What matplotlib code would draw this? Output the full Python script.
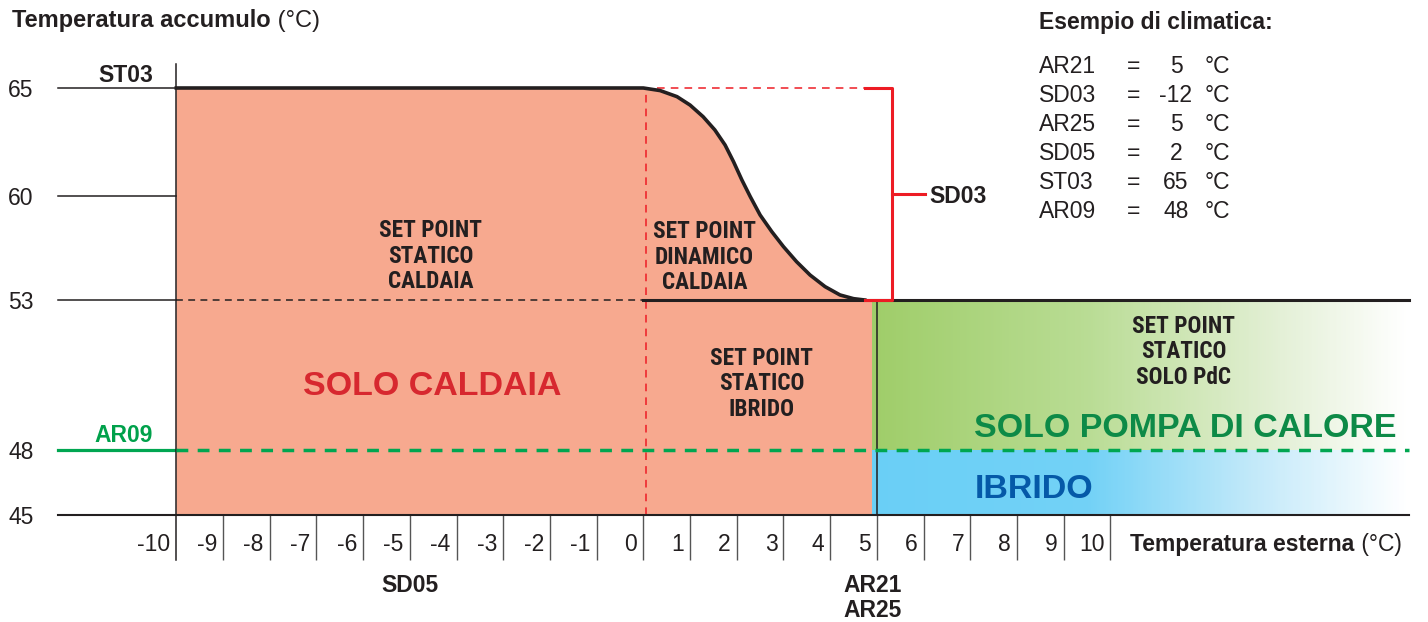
import numpy as np
import matplotlib.pyplot as plt
from matplotlib.font_manager import FontProperties, findfont
from matplotlib.colors import LinearSegmentedColormap

plt.rcParams['font.family'] = ['Liberation Sans', 'DejaVu Sans']

# assi (°C)
x_ticks = list(range(-10, 11))
y_ticks = [45, 48, 53, 60, 65]

st03 = 65      # set point statico caldaia
sd03 = -12     # escursione set point dinamico
ar09 = 48      # soglia pompa di calore
ar21 = 5
x_start = -10
x_dyn = 0
sp_low = st03 + sd03

# set point dinamico caldaia
curve_x = [0.0, 0.36, 0.72, 1.00, 1.28, 1.53, 1.75, 1.93, 2.11, 2.29,
           2.50, 2.75, 3.00, 3.28, 3.57, 3.89, 4.21, 4.50, 4.74]
curve_y = [65.0, 64.88, 64.60, 64.21, 63.67, 63.06, 62.36, 61.59, 60.74, 59.95,
           58.72, 57.60, 56.59, 55.58, 54.68, 53.90, 53.34, 53.09, 53.0]

# esempio di climatica
params = ['AR21', 'SD03', 'AR25', 'SD05', 'ST03', 'AR09']
param_values = [5, -12, 5, 2, 65, 48]

INK = '#231f20'
SALMON = '#f7a98f'
RED = '#ed1c24'
GREEN = '#00a651'

# scala verticale a tratti, come nello schema
Y_KNOTS = [30, 45, 48, 53, 60, 65, 80]
Y_PIX = [-218, 107, 172, 322, 426, 534, 858]


def y_forward(v):
    return np.interp(v, Y_KNOTS, Y_PIX)


def y_inverse(p):
    return np.interp(p, Y_PIX, Y_KNOTS)


def narrow_bold():
    """Cerca un bold stretto installato, altrimenti Liberation Sans bold."""
    candidates = [
        dict(family='Liberation Sans Narrow'),
        dict(family='Roboto Condensed'),
        dict(family='Open Sans Condensed'),
        dict(family='Noto Sans Condensed'),
        dict(family='Noto Sans', stretch='condensed'),
        dict(family='Open Sans', stretch='condensed'),
        dict(family='Roboto', stretch='condensed'),
        dict(family='DejaVu Sans', stretch='condensed'),
    ]
    for c in candidates:
        fp = FontProperties(weight='bold', **c)
        try:
            path = findfont(fp, fallback_to_default=False)
        except ValueError:
            continue
        if any(k in path for k in ('Narrow', 'Cond', 'cond')):
            return fp
    return FontProperties(family='Liberation Sans', weight='bold')


fig = plt.figure(figsize=(14.28, 6.22), dpi=100)
ax = fig.add_axes([0, 0, 1, 1])
ax.set_yscale('function', functions=(y_forward, y_inverse))
ax.set_xlim(-13.775, 16.80)
ax.set_ylim(y_inverse(0), y_inverse(622))
ax.axis('off')

x_left = -12.53
x_end = 16.4
x_fill = 4.9
tick_bottom = 42.92

# zona solo caldaia
salmon_x = [x_start, x_start] + curve_x + [x_fill, x_fill]
salmon_y = [45, st03] + curve_y + [sp_low, 45]
ax.fill(salmon_x, salmon_y, color=SALMON, lw=0, zorder=1)

# zone pompa di calore / ibrido con sfumatura
green_cmap = LinearSegmentedColormap.from_list(
    'pdc', [(0, '#9fcd69'), (0.4, '#b9dc94'), (0.75, '#e2efd4'), (1, '#ffffff')])
blue_cmap = LinearSegmentedColormap.from_list(
    'ibr', [(0, '#6acff6'), (0.4, '#72d1f6'), (0.7, '#c0e8f9'), (1, '#ffffff')])
gx = np.linspace(x_fill, x_end, 300)
shade = np.linspace(0, 1, len(gx) - 1)[None, :]
ax.pcolormesh(gx, [ar09, sp_low], shade, cmap=green_cmap, shading='flat',
              antialiased=False, zorder=1)
ax.pcolormesh(gx, [45, ar09], shade, cmap=blue_cmap, shading='flat',
              antialiased=False, zorder=1)

# linee guida sull'asse verticale
for v in [st03, 60, sp_low]:
    ax.plot([x_left, x_start], [v, v], color=INK, lw=1.1, zorder=3)
ax.plot([x_left, x_end], [45, 45], color=INK, lw=1.5, zorder=4)
ax.plot([x_start, x_start], [tick_bottom, 66.1], color=INK, lw=1.1, zorder=4)
ax.vlines(x_ticks[1:], tick_bottom, 45, color='#555555', lw=1.0, zorder=3)

# set point statico + dinamico
ax.plot([x_start] + curve_x, [st03] + curve_y, color=INK, lw=2.6, zorder=5,
        solid_joinstyle='round')
ax.plot([x_start, x_dyn], [sp_low, sp_low], color=INK, lw=1.1, dashes=(4.5, 3.5), zorder=3)
ax.plot([x_dyn, x_end], [sp_low, sp_low], color=INK, lw=2.2, zorder=4)
ax.plot([ar21, ar21], [45, sp_low], color=INK, lw=1.1, zorder=4)

# SD03
ax.plot([0.05, 0.05], [45, st03], color=RED, lw=1.1, dashes=(5, 4), zorder=3)
ax.plot([0.3, curve_x[-1]], [st03, st03], color=RED, lw=1.1, dashes=(5, 4), zorder=3)
bx = 5.33
ax.plot([curve_x[-1], bx, bx, curve_x[-1]], [st03, st03, sp_low, sp_low],
        color=RED, lw=2.2, zorder=6)
y_mid = y_inverse((y_forward(st03) + y_forward(sp_low)) / 2)
ax.plot([bx, 6.03], [y_mid, y_mid], color=RED, lw=2.2, zorder=6)
ax.annotate('SD03', xy=(6.03, y_mid), xytext=(4, -9), textcoords='offset pixels',
            ha='left', va='baseline', fontsize=16.5, fontweight='bold', color=INK)

# AR09
ax.plot([x_left, x_start], [ar09, ar09], color=GREEN, lw=2.3, zorder=3)
ax.plot([x_start, x_end], [ar09, ar09], color=GREEN, lw=2.5, dashes=(3.4, 2.7), zorder=4)

# etichette assi
for v in y_ticks:
    ax.annotate(str(v), xy=(x_left, v), xytext=(-50, -9), textcoords='offset pixels',
                ha='left', va='baseline', fontsize=16.5, color=INK)
for t in x_ticks:
    ax.annotate(str(t), xy=(t, 45), xytext=(-6, -36), textcoords='offset pixels',
                ha='right', va='baseline', fontsize=16.5, color=INK)

bold_kw = dict(textcoords='offset pixels', ha='center', va='baseline',
               fontsize=16.5, fontweight='bold', color=INK)
ax.annotate('ST03', xy=(-11.08, st03), xytext=(0, 6), **bold_kw)
ax.annotate('AR09', xy=(-11.12, ar09), xytext=(0, 8),
            **{**bold_kw, 'color': '#00a14b'})
ax.annotate('SD05', xy=(-5, 45), xytext=(0, -77), **bold_kw)
ax.annotate('AR21', xy=(ar21, 45), xytext=(-4, -77), **bold_kw)
ax.annotate('AR25', xy=(ar21, 45), xytext=(-4, -102), **bold_kw)

t1 = ax.text(12 / 1428, 1 - 27 / 622, 'Temperatura accumulo', transform=ax.transAxes,
             ha='left', va='baseline', fontsize=17, fontweight='bold', color=INK)
ax.annotate(' (°C)', xy=(1, 0), xycoords=t1, ha='left', va='bottom',
            fontsize=17, color=INK)
t2 = ax.annotate('Temperatura esterna', xy=(10, 45), xytext=(20, -36),
                 textcoords='offset pixels', ha='left', va='baseline',
                 fontsize=16.5, fontweight='bold', color=INK)
ax.annotate(' (°C)', xy=(1, 0), xycoords=t2, ha='left', va='bottom',
            fontsize=16.5, color=INK)

# zone
ax.text(-4.52, 49.83, 'SOLO CALDAIA', ha='center', va='baseline', fontsize=24.5,
        fontweight='bold', color='#d7282f', zorder=7)
ax.text(11.6, 48.43, 'SOLO POMPA DI CALORE', ha='center', va='baseline', fontsize=24.5,
        fontweight='bold', color='#0d8a47', zorder=7)
ax.text(7.1, 45.78, 'IBRIDO', ha='left', va='baseline', fontsize=24.5,
        fontweight='bold', color='#0559a8', zorder=7)

# etichette dei set point: carattere stretto, "SET POINT" largo circa 103 px
sp_font = narrow_bold()
sp_font.set_size(17)
probe = fig.text(0, 0, 'SET POINT', fontproperties=sp_font)
probe_w = probe.get_window_extent(fig.canvas.get_renderer()).width
probe.remove()
sp_font.set_size(min(17, 17 * 103 / probe_w))

sp_kw = dict(ha='center', va='center', color=INK, fontproperties=sp_font,
             linespacing=1.12, zorder=7)
ax.text(-4.55, 55.96, 'SET POINT\nSTATICO\nCALDAIA', **sp_kw)
ax.text(1.31, 55.89, 'SET POINT\nDINAMICO\nCALDAIA', **sp_kw)
ax.text(2.54, 50.2, 'SET POINT\nSTATICO\nIBRIDO', **sp_kw)
ax.text(11.57, 51.27, 'SET POINT\nSTATICO\nSOLO PdC', **sp_kw)

# esempio di climatica
ax.text(1039 / 1428, 1 - 29 / 622, 'Esempio di climatica:', transform=ax.transAxes,
        ha='left', va='baseline', fontsize=16.5, fontweight='bold', color=INK)
for i, (name, val) in enumerate(zip(params, param_values)):
    yb = 1 - (73 + 29.1 * i) / 622
    ax.text(1039 / 1428, yb, name, transform=ax.transAxes, ha='left', va='baseline',
            fontsize=16.5, color=INK)
    ax.text(1134 / 1428, yb, '=', transform=ax.transAxes, ha='center', va='baseline',
            fontsize=16.5, color=INK)
    ax.text(1176 / 1428, yb, str(val), transform=ax.transAxes, ha='center', va='baseline',
            fontsize=16.5, color=INK)
    ax.text(1205 / 1428, yb, '°C', transform=ax.transAxes, ha='left', va='baseline',
            fontsize=16.5, color=INK)

fig.savefig('out.png', dpi=100)
